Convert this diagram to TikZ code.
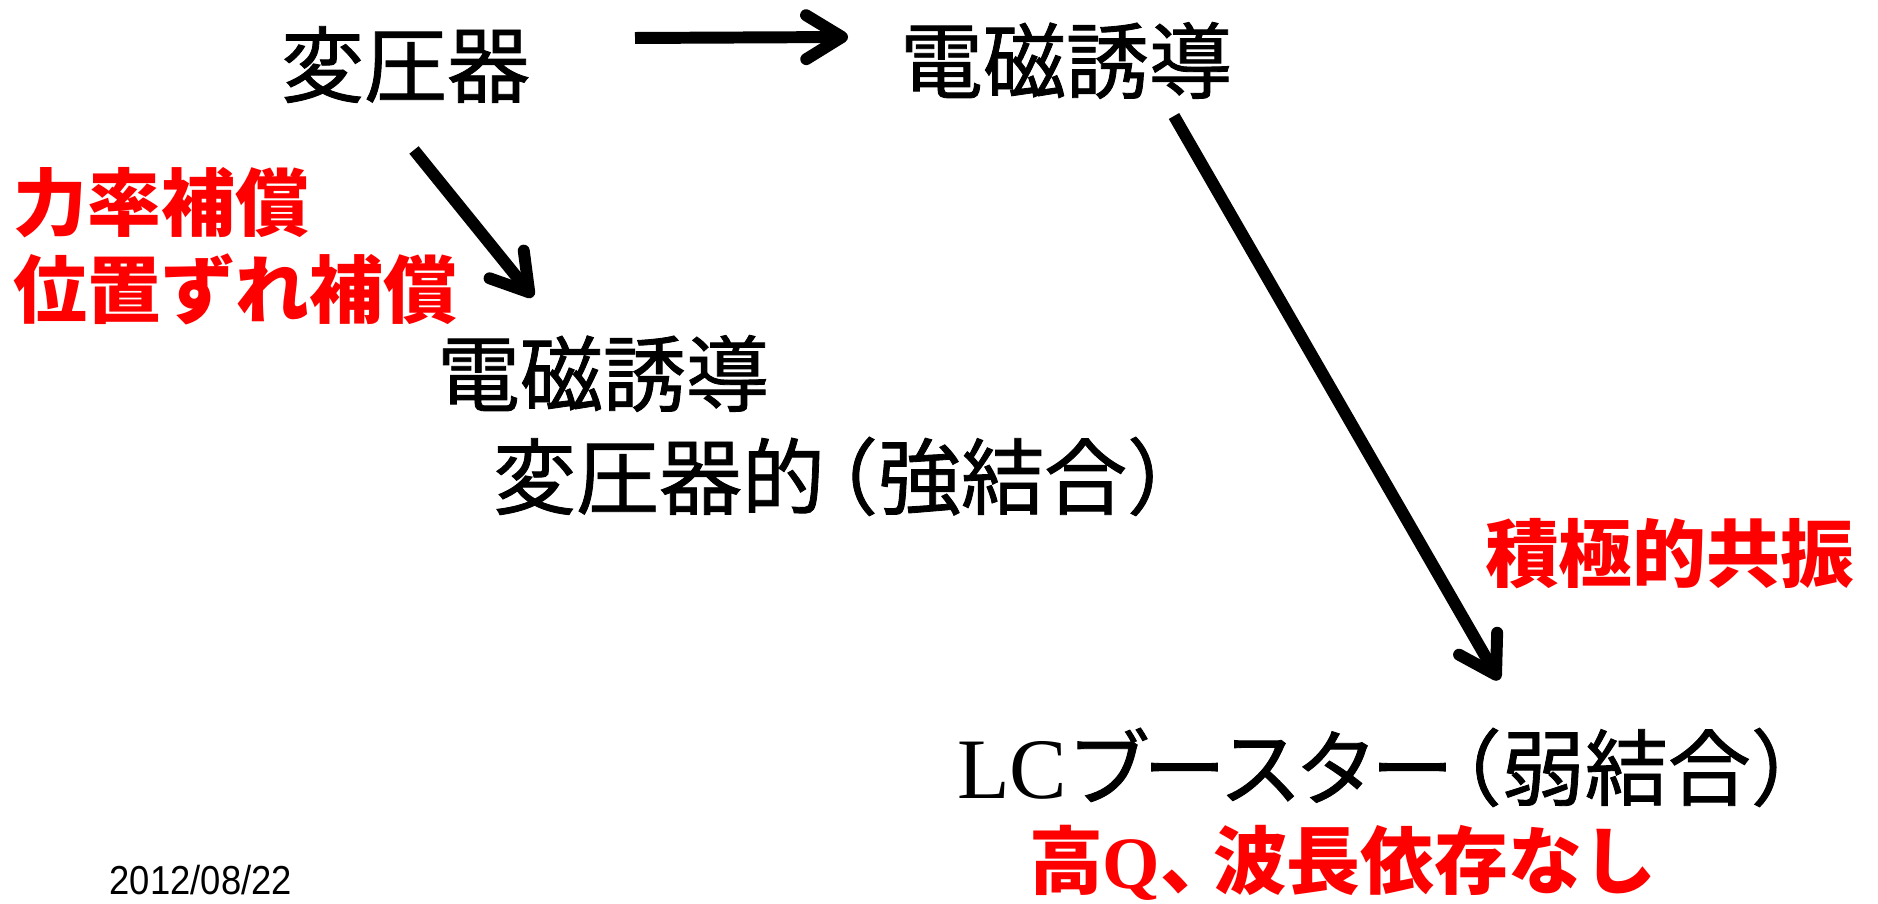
\documentclass[tikz,border=0pt]{standalone}
\usepackage{fontspec}
\newfontfamily\jp{Noto Sans CJK JP}
\newfontfamily\jpm{Noto Sans CJK JP}[FakeBold=1]
\newfontfamily\ser{Liberation Serif}
\newfontfamily\ars{Liberation Sans}
\usetikzlibrary{arrows.meta}
\begin{document}
\begin{tikzpicture}[x=0.01cm,y=-0.01cm,
  blk/.style={anchor=base west,inner sep=0pt,outer sep=0pt,font=\jpm\fontsize{23.6pt}{28pt}\selectfont},
  rd/.style={anchor=base west,inner sep=0pt,outer sep=0pt,text=red,font=\jp\bfseries\fontsize{21pt}{25pt}\selectfont},
  arr/.style={line width=3.4pt,-{Straight Barb[length=10.2pt,width=12.5pt,round]}}]
\useasboundingbox[fill=white] (0,0) rectangle (1878,904);
% black nodes
\node[blk] (t1) at (281,96) {変圧器};
\node[blk] (t2) at (900,92) {電磁誘導};
\node[blk] (t3) at (437,405) {電磁誘導};
\node[blk] (t4) at (493,508) {変圧器的\kern-8.5pt（強結合）};
\node[blk] (t5) at (957,799) {{\ser\fontsize{24.5pt}{28pt}\selectfont LC}ブ\kern-2pt ー\kern-2pt ス\kern-2pt タ\kern-2pt ー\kern-10pt（弱結合）};
% red labels
\node[rd] (r1) at (14,231) {力率補償};
\node[rd] (r2) at (14,318) {位置ずれ補償};
\node[rd] (r3) at (1485,582) {積極的共振};
\node[rd] (r4) at (1029,889) {高{\ser\bfseries Q}、\kern-6pt 波長依存なし};
% date
\node[anchor=base west,inner sep=0pt] (date) at (109,895) {\scalebox{0.9}[1]{\ars\fontsize{11.5pt}{13pt}\selectfont 2012/08/22}};
% arrows
\draw[arr] ([shift={(354,-58)}]t1.base west) -- ([shift={(-52,-55)}]t2.base west);
\draw[arr] ([shift={(133,54)}]t1.base west) -- ([shift={(96,-108)}]t3.base west);
\draw[arr] ([shift={(274,24)}]t2.base west) -- ([shift={(542,-119)}]t5.base west);
\end{tikzpicture}
\end{document}
